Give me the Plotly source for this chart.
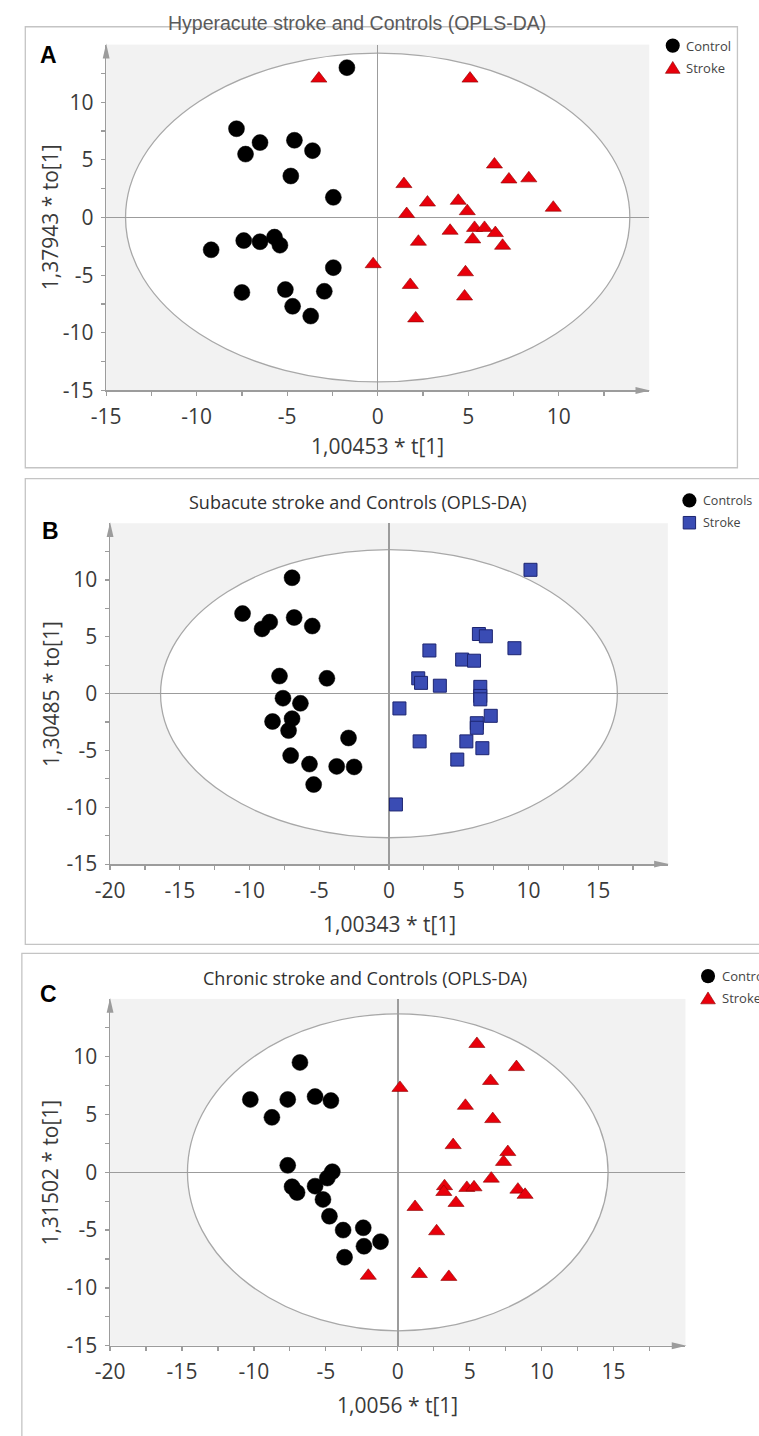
import plotly.graph_objects as go

W, H = 759, 1436

# ---------------- data ----------------
# Panel A: Hyperacute stroke vs Controls
a_ctrl_x = [-1.7, -7.8, -6.5, -4.6, -3.6, -7.3, -4.8, -2.45, -7.4, -6.5, -5.7, -5.4, -9.2, -2.45, -7.5, -5.1, -2.95, -4.7, -3.7]
a_ctrl_y = [13.0, 7.7, 6.5, 6.7, 5.8, 5.5, 3.6, 1.75, -2.0, -2.1, -1.7, -2.4, -2.8, -4.35, -6.5, -6.25, -6.4, -7.7, -8.55]
a_strk_x = [-3.25, 5.1, 6.45, 7.25, 8.35, 1.45, 9.7, 2.75, 4.45, 4.95, 1.6, 4.0, 5.35, 5.9, 6.5, 5.25, 2.25, 6.9, -0.25, 4.85, 1.8, 4.8, 2.1]
a_strk_y = [12.05, 12.05, 4.6, 3.3, 3.4, 2.9, 0.85, 1.3, 1.45, 0.55, 0.3, -1.15, -0.9, -0.9, -1.35, -1.9, -2.1, -2.45, -4.05, -4.75, -5.85, -6.85, -8.75]
a_ellipse = (13.93, 14.26)

# Panel B: Subacute stroke vs Controls
b_ctrl_x = [-6.95, -10.5, -6.8, -8.55, -9.1, -5.5, -7.85, -4.45, -7.6, -6.35, -6.95, -8.35, -7.2, -2.9, -7.05, -5.7, -3.75, -2.5, -5.4]
b_ctrl_y = [10.2, 7.05, 6.7, 6.3, 5.7, 5.95, 1.55, 1.35, -0.4, -0.85, -2.2, -2.45, -3.25, -3.9, -5.45, -6.2, -6.4, -6.45, -8.0]
b_strk_x = [10.15, 6.45, 6.95, 9.0, 2.9, 5.25, 6.1, 2.1, 2.3, 3.65, 6.55, 6.55, 6.55, 0.75, 7.3, 6.3, 6.3, 2.2, 5.55, 6.7, 4.9, 0.5]
b_strk_y = [10.9, 5.25, 5.05, 4.0, 3.8, 3.0, 2.9, 1.35, 0.95, 0.7, 0.6, -0.2, -0.5, -1.3, -1.95, -2.6, -3.0, -4.2, -4.2, -4.8, -5.8, -9.75]
b_ellipse = (16.38, 12.68)

# Panel C: Chronic stroke vs Controls
c_ctrl_x = [-6.8, -10.25, -7.65, -5.75, -4.65, -8.75, -7.65, -4.55, -4.9, -5.75, -7.35, -7.0, -5.2, -4.75, -3.8, -2.4, -1.2, -2.35, -3.7]
c_ctrl_y = [9.5, 6.3, 6.3, 6.55, 6.2, 4.75, 0.6, 0.05, -0.5, -1.2, -1.25, -1.75, -2.35, -3.8, -5.0, -4.8, -6.0, -6.4, -7.35]
c_strk_x = [5.5, 8.25, 6.45, 0.15, 4.7, 6.6, 3.85, 7.65, 7.35, 6.5, 3.25, 3.2, 4.8, 5.3, 8.35, 8.85, 4.05, 1.2, 2.7, -2.05, 1.5, 3.55]
c_strk_y = [11.1, 9.1, 7.9, 7.3, 5.75, 4.6, 2.35, 1.75, 0.9, -0.55, -1.2, -1.7, -1.35, -1.3, -1.5, -1.95, -2.65, -3.0, -5.1, -8.95, -8.8, -9.05]
c_ellipse = (14.62, 13.71)

titles = ["Hyperacute stroke and Controls (OPLS-DA)",
          "Subacute stroke and Controls (OPLS-DA)",
          "Chronic stroke and Controls (OPLS-DA)"]
panel_letters = ["A", "B", "C"]
x_titles = ["1,00453 * t[1]", "1,00343 * t[1]", "1,0056 * t[1]"]
y_titles = ["1,37943 * to[1]", "1,30485 * to[1]", "1,31502 * to[1]"]
ctrl_names = ["Control", "Controls", "Controls"]
strk_name = "Stroke"

x_ranges = [(-15, 15), (-20, 20), (-20, 20)]
y_ranges = [(-15, 15), (-15, 15), (-15, 15)]
x_tick_major = [[-15, -10, -5, 0, 5, 10], [-20, -15, -10, -5, 0, 5, 10, 15], [-20, -15, -10, -5, 0, 5, 10, 15]]
y_tick_major = [[-15, -10, -5, 0, 5, 10]] * 3

# ---------------- styling / layout ----------------
def pxx(v):
    return v / W

def pxy(v):
    return 1 - v / H

AX = "#9c9c9c"
TICKFONT = dict(family="Open Sans", size=21, color="#3a3a3a")

# plot areas in pixels (left, right, top, bottom)
areas = [(93, 647, 45, 394), (97, 666, 528, 872), (97, 684, 1008, 1358)]
frames = [(10.5, 737, 27, 472), (10.5, 800, 483, 953), (7, 800, 962, 1460)]
title_pos = [(349, 23), (349, 507), (357, 987)]
letter_pos = [(34, 55), (36, 536), (34, 1003)]
xt_pos = [(370, 450), (382, 932), (390, 1418)]
yt_pos = [(36, 219), (36, 700), (36, 1183)]
legend_pos = [(671, 46, 682), (688, 505, 700), (707, 985, 719)]
legend_font_sizes = [13, 12.5, 13]
stroke_symbols = ["triangle-up", "square", "triangle-up"]

ctrl = [(a_ctrl_x, a_ctrl_y), (b_ctrl_x, b_ctrl_y), (c_ctrl_x, c_ctrl_y)]
strk = [(a_strk_x, a_strk_y), (b_strk_x, b_strk_y), (c_strk_x, c_strk_y)]
ellipses = [a_ellipse, b_ellipse, c_ellipse]

RED = "#e8000b"
RED_EDGE = "#8a0000"
BLUE = "#3a4cb4"
BLUE_EDGE = "#1c2470"

fig = go.Figure()
shapes = []
annotations = []
layout_axes = {}

for i in range(3):
    sfx = "" if i == 0 else str(i + 1)
    xa, ya = "x" + sfx, "y" + sfx
    cx, cy = ctrl[i]
    sx, sy = strk[i]
    fig.add_trace(go.Scatter(x=cx, y=cy, mode="markers", name=ctrl_names[i], xaxis=xa, yaxis=ya,
                             showlegend=False, cliponaxis=False,
                             marker=dict(symbol="circle", size=16, color="#000000",
                                         line=dict(color="#000000", width=0.5))))
    if stroke_symbols[i] == "square":
        mk = dict(symbol="square", size=13, color=BLUE, line=dict(color=BLUE_EDGE, width=1))
    else:
        mk = dict(symbol="triangle-up", size=14, color=RED, line=dict(color=RED_EDGE, width=0.6))
    fig.add_trace(go.Scatter(x=sx, y=sy, mode="markers", name=strk_name, xaxis=xa, yaxis=ya,
                             showlegend=False, cliponaxis=False, marker=mk))

    l, r, t, b = areas[i]
    x0, x1 = x_ranges[i]
    y0, y1 = y_ranges[i]
    xmaj = x_tick_major[i]
    ymaj = y_tick_major[i]
    step = (xmaj[1] - xmaj[0]) / 2
    xt = []
    v = x0
    while v < x1 - 1e-9:
        xt.append(v)
        v += step
    xtext = [str(int(v)) if v in xmaj else "" for v in xt]
    yt = []
    v = y0
    while v < y1 - 1e-9:
        yt.append(v)
        v += step
    ytext = [str(int(v)) if v in ymaj else "" for v in yt]

    common = dict(showgrid=False, zeroline=True, zerolinecolor=AX, zerolinewidth=1.5,
                  showline=True, linecolor=AX, linewidth=1.5, ticks="outside", ticklen=4,
                  tickcolor=AX, tickwidth=1.2, tickfont=TICKFONT, tickmode="array",
                  fixedrange=True)
    layout_axes["xaxis" + sfx] = dict(common, domain=[pxx(l), pxx(r)], range=[x0, x1], anchor=ya,
                                      tickvals=xt, ticktext=xtext, ticklabelstandoff=3)
    layout_axes["yaxis" + sfx] = dict(common, domain=[pxy(b), pxy(t)], range=[y0, y1], anchor=xa,
                                      tickvals=yt, ticktext=ytext, ticklabelstandoff=3)

    # confidence ellipse (Hotelling T2)
    ea, eb = ellipses[i]
    shapes.append(dict(type="circle", xref=xa, yref=ya, x0=-ea, x1=ea, y0=-eb, y1=eb,
                       fillcolor="white", line=dict(color="#a8a8a8", width=1.3), layer="below"))

    # axis arrows
    shapes.append(dict(type="path", xref="paper", yref="paper",
                       path=f"M{pxx(r+1)},{pxy(b)} L{pxx(r-14)},{pxy(b-3.5)} L{pxx(r-14)},{pxy(b+3.5)} Z",
                       fillcolor=AX, line=dict(width=0), layer="above"))
    shapes.append(dict(type="path", xref="paper", yref="paper",
                       path=f"M{pxx(l)},{pxy(t-1)} L{pxx(l-3.5)},{pxy(t+14)} L{pxx(l+3.5)},{pxy(t+14)} Z",
                       fillcolor=AX, line=dict(width=0), layer="above"))

    # panel frame
    fl, fr, ft, fb = frames[i]
    shapes.append(dict(type="rect", xref="paper", yref="paper", x0=pxx(fl), x1=pxx(fr),
                       y0=pxy(fb), y1=pxy(ft), line=dict(color="#c4c4c4", width=1.3),
                       fillcolor="rgba(0,0,0,0)", layer="below"))

    # titles and labels
    tx, ty = title_pos[i]
    if i == 0:
        tfont = dict(family="Liberation Sans", size=19.5, color="#5a5a5a")
    else:
        tfont = dict(family="Open Sans", size=18, color="#303030")
    annotations.append(dict(text=titles[i], x=pxx(tx), y=pxy(ty), xref="paper", yref="paper",
                            showarrow=False, xanchor="center", yanchor="middle", font=tfont))
    lx, ly = letter_pos[i]
    annotations.append(dict(text="<b>" + panel_letters[i] + "</b>", x=pxx(lx), y=pxy(ly),
                            xref="paper", yref="paper", showarrow=False, xanchor="center",
                            yanchor="middle", font=dict(family="Liberation Sans", size=23, color="#000")))
    ax_, ay_ = xt_pos[i]
    annotations.append(dict(text=x_titles[i], x=pxx(ax_), y=pxy(ay_), xref="paper", yref="paper",
                            showarrow=False, xanchor="center", yanchor="middle",
                            font=dict(family="Open Sans", size=21, color="#3a3a3a")))
    bx_, by_ = yt_pos[i]
    annotations.append(dict(text=y_titles[i], x=pxx(bx_), y=pxy(by_), xref="paper", yref="paper",
                            showarrow=False, xanchor="center", yanchor="middle", textangle=-90,
                            font=dict(family="Open Sans", size=21, color="#3a3a3a")))

    # legend (symbol + label)
    gx, gy, gtx = legend_pos[i]
    rr = 7.2
    shapes.append(dict(type="circle", xref="paper", yref="paper", x0=pxx(gx - rr), x1=pxx(gx + rr),
                       y0=pxy(gy + rr), y1=pxy(gy - rr), fillcolor="#000", line=dict(width=0)))
    sy2 = gy + 22.5
    if stroke_symbols[i] == "square":
        s = 6.3
        shapes.append(dict(type="rect", xref="paper", yref="paper", x0=pxx(gx - s), x1=pxx(gx + s),
                           y0=pxy(sy2 + s), y1=pxy(sy2 - s), fillcolor=BLUE,
                           line=dict(color=BLUE_EDGE, width=1)))
    else:
        shapes.append(dict(type="path", xref="paper", yref="paper",
                           path=f"M{pxx(gx)},{pxy(sy2-6.5)} L{pxx(gx-7.5)},{pxy(sy2+5.5)} L{pxx(gx+7.5)},{pxy(sy2+5.5)} Z",
                           fillcolor=RED, line=dict(color=RED_EDGE, width=0.6)))
    lfont = dict(family="Open Sans", size=legend_font_sizes[i], color="#444444")
    annotations.append(dict(text=ctrl_names[i], x=pxx(gtx), y=pxy(gy), xref="paper", yref="paper",
                            showarrow=False, xanchor="left", yanchor="middle", font=lfont))
    annotations.append(dict(text=strk_name, x=pxx(gtx), y=pxy(sy2), xref="paper", yref="paper",
                            showarrow=False, xanchor="left", yanchor="middle", font=lfont))

fig.update_layout(width=W, height=H, margin=dict(l=0, r=0, t=0, b=0),
                  paper_bgcolor="white", plot_bgcolor="#f2f2f2", showlegend=False,
                  shapes=shapes, annotations=annotations, **layout_axes)

fig.write_html("out.html", config={"displayModeBar": False, "staticPlot": True},
               post_script="document.body.style.margin='0px';document.body.style.overflow='hidden';")
